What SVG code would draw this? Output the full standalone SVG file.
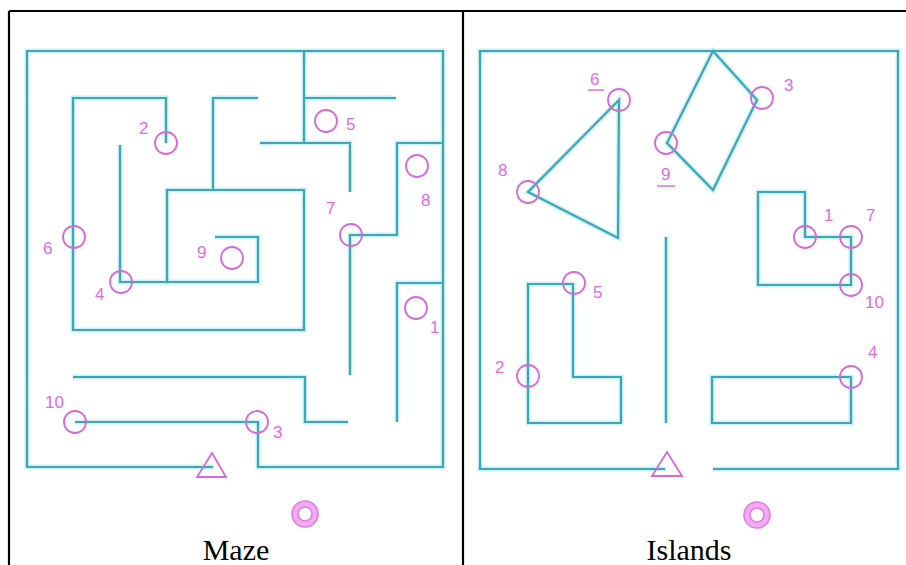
<svg xmlns="http://www.w3.org/2000/svg" width="906" height="565" viewBox="0 0 906 565">
<style>
.halo{fill:none;stroke:#c8f1f6;stroke-width:5;stroke-linejoin:miter}
.wall{fill:none;stroke:#40a6b3;stroke-width:2.2;stroke-linejoin:miter}
.pt{fill:none;stroke:#d56ad5;stroke-width:1.8}
.lb{font-family:"Liberation Sans",Arial,sans-serif;font-size:17px;fill:#e06ce0}
.ul{stroke:#e06ce0;stroke-width:1.5}
.goal{fill:none;stroke:#f3aaf3;stroke-width:6}
.goal-edge{fill:none;stroke:#e27ce2;stroke-width:1.6}
.start{fill:none;stroke:#d56ad5;stroke-width:1.8}
.cap{font-family:"Liberation Serif","Times New Roman",serif;font-size:30px;fill:#000;text-anchor:middle}
.frame{stroke:#000;stroke-width:2.2}
</style>
<rect width="906" height="565" fill="#fff"/>
<g id="frame">
<line class="frame" x1="9" y1="11" x2="906" y2="11"/>
<line class="frame" x1="9" y1="11" x2="9" y2="565"/>
<line class="frame" x1="463" y1="11" x2="463" y2="565"/>
</g>
<g id="connectors">
<g id="maze-walls">
<path class="halo" d="M75,422 H258 V467 H443 V51 H27 V467 H213 M304,51 V143 M260,143 H350 V192 M304,98 H396 M166,143 V98 H73 V330 H304 V190 H167 V282 M120,145 V282 H258 V237 H215 M213,190 V98 H258 M350,375 V235 H397 V143 H443 M443,283 H397 V422 M73,377 H305 V422 H348"/>
<path class="wall" d="M75,422 H258 V467 H443 V51 H27 V467 H213 M304,51 V143 M260,143 H350 V192 M304,98 H396 M166,143 V98 H73 V330 H304 V190 H167 V282 M120,145 V282 H258 V237 H215 M213,190 V98 H258 M350,375 V235 H397 V143 H443 M443,283 H397 V422 M73,377 H305 V422 H348"/>
</g>
<g id="island-walls">
<path class="halo" d="M665,469 H480 V51 H898 V469 H713 M619,100 L528,192 L618,238 Z M713,51 L757,100 L713,190 L667,143 Z M666,237 V423 M758,192 H805 V237 H851 V285 H758 Z M528,284 H573 V377 H621 V423 H528 Z M712,377 H851 V423 H712 Z"/>
<path class="wall" d="M665,469 H480 V51 H898 V469 H713 M619,100 L528,192 L618,238 Z M713,51 L757,100 L713,190 L667,143 Z M666,237 V423 M758,192 H805 V237 H851 V285 H758 Z M528,284 H573 V377 H621 V423 H528 Z M712,377 H851 V423 H712 Z"/>
</g>
</g>
<g id="maze">
<g id="m1"><circle class="pt" cx="416" cy="308" r="11"/><text class="lb" x="430" y="333">1</text></g>
<g id="m2"><circle class="pt" cx="166" cy="143" r="11"/><text class="lb" x="139" y="134">2</text></g>
<g id="m3"><circle class="pt" cx="257" cy="422" r="11"/><text class="lb" x="273" y="438">3</text></g>
<g id="m4"><circle class="pt" cx="121" cy="282" r="11"/><text class="lb" x="95" y="300">4</text></g>
<g id="m5"><circle class="pt" cx="326" cy="121" r="11"/><text class="lb" x="346" y="130">5</text></g>
<g id="m6"><circle class="pt" cx="74" cy="237" r="11"/><text class="lb" x="43" y="254">6</text></g>
<g id="m7"><circle class="pt" cx="351" cy="235" r="11"/><text class="lb" x="326" y="214">7</text></g>
<g id="m8"><circle class="pt" cx="417" cy="166" r="11"/><text class="lb" x="421" y="206">8</text></g>
<g id="m9"><circle class="pt" cx="232" cy="258" r="11"/><text class="lb" x="197" y="258">9</text></g>
<g id="m10"><circle class="pt" cx="75" cy="422" r="11"/><text class="lb" x="45" y="408">10</text></g>
<g id="m-start"><path class="start" d="M212,453 L226,477 L197,477 Z"/></g>
<g id="m-goal"><circle class="goal" cx="305" cy="514" r="10"/><circle class="goal-edge" cx="305" cy="514" r="13"/><circle class="goal-edge" cx="305" cy="514" r="7"/></g>
<text class="cap" x="236" y="560">Maze</text>
</g>
<g id="islands">
<g id="i1"><circle class="pt" cx="805" cy="237" r="11"/><text class="lb" x="824" y="221">1</text></g>
<g id="i2"><circle class="pt" cx="528" cy="376" r="11"/><text class="lb" x="495" y="373">2</text></g>
<g id="i3"><circle class="pt" cx="762" cy="98" r="11"/><text class="lb" x="784" y="91">3</text></g>
<g id="i4"><circle class="pt" cx="851" cy="377" r="11"/><text class="lb" x="868" y="358">4</text></g>
<g id="i5"><circle class="pt" cx="574" cy="283" r="11"/><text class="lb" x="593" y="298">5</text></g>
<g id="i6"><circle class="pt" cx="619" cy="100" r="11"/><text class="lb" x="590" y="85">6</text><line class="ul" x1="588" y1="90" x2="604" y2="90"/></g>
<g id="i7"><circle class="pt" cx="851" cy="237" r="11"/><text class="lb" x="866" y="221">7</text></g>
<g id="i8"><circle class="pt" cx="528" cy="192" r="11"/><text class="lb" x="498" y="176">8</text></g>
<g id="i9"><circle class="pt" cx="666" cy="143" r="11"/><text class="lb" x="661" y="180">9</text><line class="ul" x1="657" y1="186" x2="675" y2="186"/></g>
<g id="i10"><circle class="pt" cx="851" cy="285" r="11"/><text class="lb" x="865" y="308">10</text></g>
<g id="i-start"><path class="start" d="M667,452 L682,476 L652,476 Z"/></g>
<g id="i-goal"><circle class="goal" cx="757" cy="515" r="10"/><circle class="goal-edge" cx="757" cy="515" r="13"/><circle class="goal-edge" cx="757" cy="515" r="7"/></g>
<text class="cap" x="689" y="560">Islands</text>
</g>
</svg>
